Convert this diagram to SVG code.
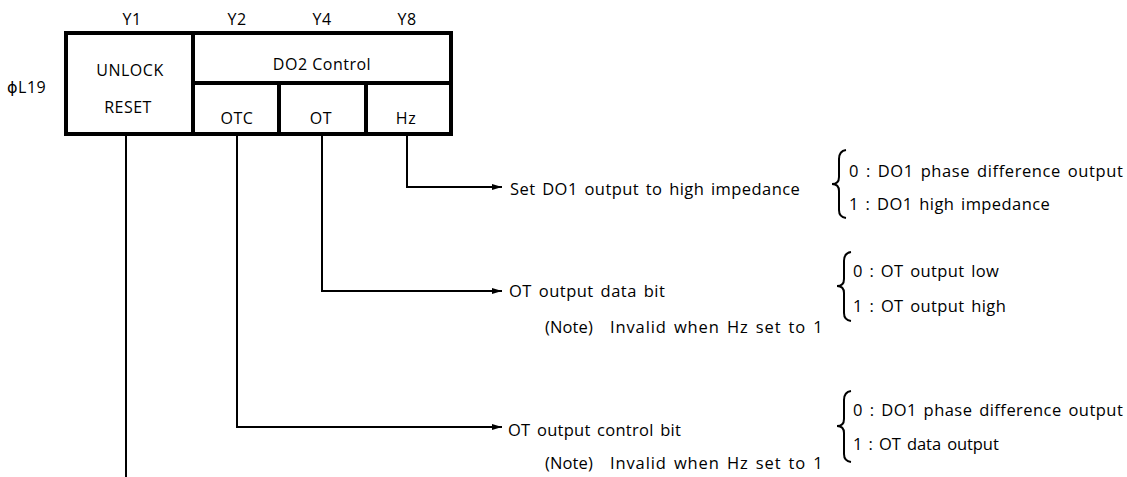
<svg xmlns="http://www.w3.org/2000/svg" width="1127" height="477" viewBox="0 0 1127 477">
<style>
text{font-family:"Open Sans","DejaVu Sans",sans-serif;fill:#000}
.b{font-size:16px;letter-spacing:0.5px}
.t{font-size:16.5px;letter-spacing:0.2px;word-spacing:2px}
.c{text-anchor:middle}
.box{fill:none;stroke:#000;stroke-width:4}
.ln{fill:none;stroke:#000;stroke-width:2}
.br{fill:none;stroke:#000;stroke-width:2}
</style>
<defs>
<marker id="ah" viewBox="0 0 10 6" refX="10" refY="3" markerWidth="10" markerHeight="6" markerUnits="userSpaceOnUse" orient="auto">
<path d="M0,0 L10,3 L0,6 Z" fill="#000"/>
</marker>
</defs>
<g id="labels">
<text class="b c" x="132" y="25">Y1</text>
<text class="b c" x="237" y="25">Y2</text>
<text class="b c" x="322" y="25">Y4</text>
<text class="b c" x="407" y="25">Y8</text>
<text class="b" x="7" y="93">ϕL19</text>
</g>
<g id="register">
<rect class="box" x="66" y="33" width="385" height="101"/>
<line class="box" x1="193" y1="33" x2="193" y2="134"/>
<line class="box" x1="193" y1="83" x2="451" y2="83"/>
<line class="box" x1="279" y1="83" x2="279" y2="134"/>
<line class="box" x1="366" y1="83" x2="366" y2="134"/>
<text class="b c" x="130" y="76">UNLOCK</text>
<text class="b c" x="128" y="113">RESET</text>
<text class="b c" x="322" y="70">DO2 Control</text>
<text class="b c" x="237" y="124">OTC</text>
<text class="b c" x="321" y="124">OT</text>
<text class="b c" x="406" y="124">Hz</text>
</g>
<g id="connectors">
<path class="ln" d="M126,136 V477"/>
<path class="ln" d="M407,136 V187 H502" marker-end="url(#ah)"/>
<path class="ln" d="M322,136 V291 H502" marker-end="url(#ah)"/>
<path class="ln" d="M237,136 V427 H502" marker-end="url(#ah)"/>
</g>
<g id="hz-desc">
<text class="t" x="510" y="195" textLength="290">Set DO1 output to high impedance</text>
<path class="br" d="M846,150 Q839,151 839,159 V177 Q839,184 832,184 Q839,184 839,191 V210 Q839,217 846,218"/>
<text class="t" x="849" y="177" textLength="274">0 : DO1 phase difference output</text>
<text class="t" x="849" y="210" textLength="201">1 : DO1 high impedance</text>
</g>
<g id="ot-desc">
<text class="t" x="509" y="297" textLength="156">OT output data bit</text>
<text class="t" x="545" y="333" textLength="48">(Note)</text>
<text class="t" x="610" y="333" textLength="213">Invalid when Hz set to 1</text>
<path class="br" d="M851,252 Q844,253 844,261 V279 Q844,286 837,286 Q844,286 844,293 V313 Q844,320 851,321"/>
<text class="t" x="853" y="277" textLength="146">0 : OT output low</text>
<text class="t" x="853" y="312" textLength="153">1 : OT output high</text>
</g>
<g id="otc-desc">
<text class="t" x="508" y="436" textLength="173">OT output control bit</text>
<text class="t" x="545" y="469" textLength="48">(Note)</text>
<text class="t" x="610" y="469" textLength="213">Invalid when Hz set to 1</text>
<path class="br" d="M851,391 Q844,392 844,400 V419 Q844,426 837,426 Q844,426 844,433 V454 Q844,461 851,462"/>
<text class="t" x="853" y="416" textLength="270">0 : DO1 phase difference output</text>
<text class="t" x="853" y="450" textLength="146">1 : OT data output</text>
</g>
</svg>
